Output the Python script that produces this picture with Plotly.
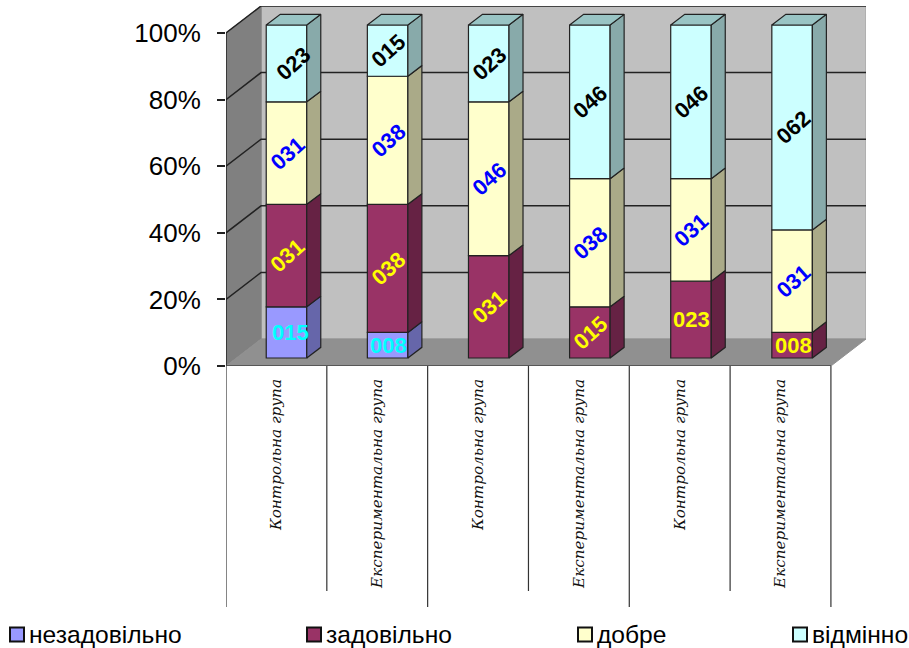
import plotly.graph_objects as go

categories = ["Контрольна група", "Експериментальна група"] * 3
series_names = ["незадовільно", "задовільно", "добре", "відмінно"]
unsatisfactory = [15.38, 7.69, 0, 0, 0, 0]
satisfactory = [30.77, 38.46, 30.77, 15.38, 23.08, 7.69]
good = [30.77, 38.46, 46.15, 38.46, 30.77, 30.77]
excellent = [23.08, 15.38, 23.08, 46.15, 46.15, 61.54]
series_values = [unsatisfactory, satisfactory, good, excellent]
y_ticks = [0, 20, 40, 60, 80, 100]
y_tick_labels = ["0%", "20%", "40%", "60%", "80%", "100%"]
# label rotation per series / per bar
label_angles = [
    [0, 0, 0, 0, 0, 0],
    [-42, -42, -42, -42, 0, 0],
    [-42, -42, -42, -42, -42, -42],
    [-42, -42, -42, -42, -42, -42],
]
# small pixel nudges of individual labels: (series, bar) -> xshift
label_nudges = {(3, 0): 6, (0, 0): 3}

face_colors = ["#9999FF", "#993366", "#FFFFCC", "#CCFFFF"]
side_colors = ["#6666AA", "#662244", "#AAAA88", "#88AAAA"]
top_color = "#99C4C4"
label_colors = ["#00FFFF", "#FFFF00", "#0000FF", "#000000"]
edge = "#222222"

# geometry in axis units (category widths and percent points)
n = len(categories)
wall_dx, wall_dy = 0.348, 8.1
bar_dx, bar_dy = 0.10, 2.4
side_dx, side_dy = 0.139, 3.2
bar_w = 0.402
bar_step = 1.003

fig = go.Figure()
bar_x = [i * bar_step + 0.5 + bar_dx for i in range(n)]
bases = [bar_dy] * n
annotations = []
side_traces = []
for s, (name, vals) in enumerate(zip(series_names, series_values)):
    fig.add_trace(go.Bar(
        x=bar_x, y=[v if v else None for v in vals], base=bases, width=bar_w, name=name,
        marker=dict(color=face_colors[s], line=dict(color=edge, width=1.2)),
        showlegend=False, hoverinfo="skip",
    ))
    sx, sy, tx, ty = [], [], [], []
    for i, v in enumerate(vals):
        if not v:
            continue
        b, t = bases[i], bases[i] + v
        x1 = bar_x[i] + bar_w / 2
        x0 = bar_x[i] - bar_w / 2
        sx += [x1, x1 + side_dx, x1 + side_dx, x1, x1, None]
        sy += [b, b + side_dy, t + side_dy, t, b, None]
        if s == len(series_values) - 1:
            tx += [x0, x0 + side_dx, x1 + side_dx, x1, x0, None]
            ty += [t, t + side_dy, t + side_dy, t, t, None]
        annotations.append(dict(
            x=bar_x[i], y=(b + t) / 2, xref="x", yref="y", text=f"<b>{round(v):03d}</b>",
            showarrow=False, textangle=label_angles[s][i], xshift=1 + label_nudges.get((s, i), 0),
            font=dict(family="Liberation Sans", size=22, color=label_colors[s]),
        ))
    side_traces.append(go.Scatter(x=sx, y=sy, mode="lines", fill="toself", fillcolor=side_colors[s],
                                  line=dict(color=edge, width=1.2), showlegend=False, hoverinfo="skip"))
    if tx:
        side_traces.append(go.Scatter(x=tx, y=ty, mode="lines", fill="toself", fillcolor=top_color,
                                      line=dict(color=edge, width=1.2), showlegend=False, hoverinfo="skip"))
    bases = [b + v for b, v in zip(bases, vals)]
fig.add_traces(side_traces)

top = max(y_ticks)
shapes = [
    dict(type="path", layer="below", line=dict(color="#A0A0A0", width=1), fillcolor="#C0C0C0",
         path=f"M{wall_dx},{wall_dy} L{wall_dx},{top + wall_dy} L{n + wall_dx},{top + wall_dy} L{n + wall_dx},{wall_dy} Z"),
    dict(type="path", layer="below", line=dict(color="#808080", width=1), fillcolor="#808080",
         path=f"M0,0 L0,{top} L{wall_dx},{top + wall_dy} L{wall_dx},{wall_dy} Z"),
    dict(type="path", layer="below", line=dict(color="#909090", width=1), fillcolor="#909090",
         path=f"M0,0 L{wall_dx},{wall_dy} L{n + wall_dx},{wall_dy} L{n},0 Z"),
]
for v in y_ticks[1:]:
    shapes.append(dict(type="path", layer="below", line=dict(color=edge, width=1.5),
                       path=f"M0,{v} L{wall_dx},{v + wall_dy} L{n + wall_dx},{v + wall_dy}"))
shapes.append(dict(type="line", layer="above", x0=0, x1=0, y0=0, y1=top, line=dict(color=edge, width=1.5)))
shapes.append(dict(type="line", layer="above", x0=0, x1=n, y0=0, y1=0, line=dict(color="#444444", width=1.5)))
# category separators below the axis, alternate long and short
W, H = 909, 648
ML, MR, MT, MB = 226, 43, 6, 282
H_PLOT = H - MT - MB
for i in range(n + 1):
    drop = 241 if i % 2 == 0 else 225
    shapes.append(dict(type="line", xref="x", yref="paper", x0=i, x1=i,
                       y0=-drop / H_PLOT, y1=0, line=dict(color="#333333", width=1.2)))

# legend row
legend_x = [10, 307, 578, 793]
legend_y = 634.5
def px(xp):
    return (xp - ML) / (W - ML - MR)
def py(yp):
    return (H - MB - yp) / (H - MT - MB)
for s, name in enumerate(series_names):
    shapes.append(dict(type="rect", xref="paper", yref="paper",
                       x0=px(legend_x[s]), x1=px(legend_x[s] + 14), y0=py(legend_y + 7), y1=py(legend_y - 7),
                       fillcolor=face_colors[s], line=dict(color="#111111", width=2)))
    annotations.append(dict(x=px(legend_x[s] + 17), y=py(legend_y - 0.5), xref="paper", yref="paper", xanchor="left",
                            yanchor="middle", text=name, showarrow=False,
                            font=dict(family="Liberation Sans", size=24.6, color="#000000")))

fig.update_layout(
    width=W, height=H, margin=dict(l=ML, r=MR, t=MT, b=MB, pad=0),
    paper_bgcolor="white", plot_bgcolor="white", barmode="overlay",
    shapes=shapes, annotations=annotations, showlegend=False,
    xaxis=dict(range=[0, n + wall_dx], tickvals=[i + 0.5 for i in range(n)],
               ticktext=[f"<i>{c}</i>" for c in categories],
               tickangle=-90, ticks="", showgrid=False, zeroline=False, showline=False,
               ticklabelstandoff=9,
               tickfont=dict(family="DejaVu Serif", size=15.2, color="#111111")),
    yaxis=dict(range=[0, top + wall_dy], tickvals=y_ticks, ticktext=y_tick_labels, ticks="outside", ticklen=8,
               tickwidth=1.5, tickcolor=edge, showgrid=False, zeroline=False, showline=False,
               ticklabelstandoff=11,
               tickfont=dict(family="Liberation Sans", size=26, color="#000000")),
)
fig.write_html("out.html", post_script="document.body.style.margin='0';", config={"displayModeBar": False})
